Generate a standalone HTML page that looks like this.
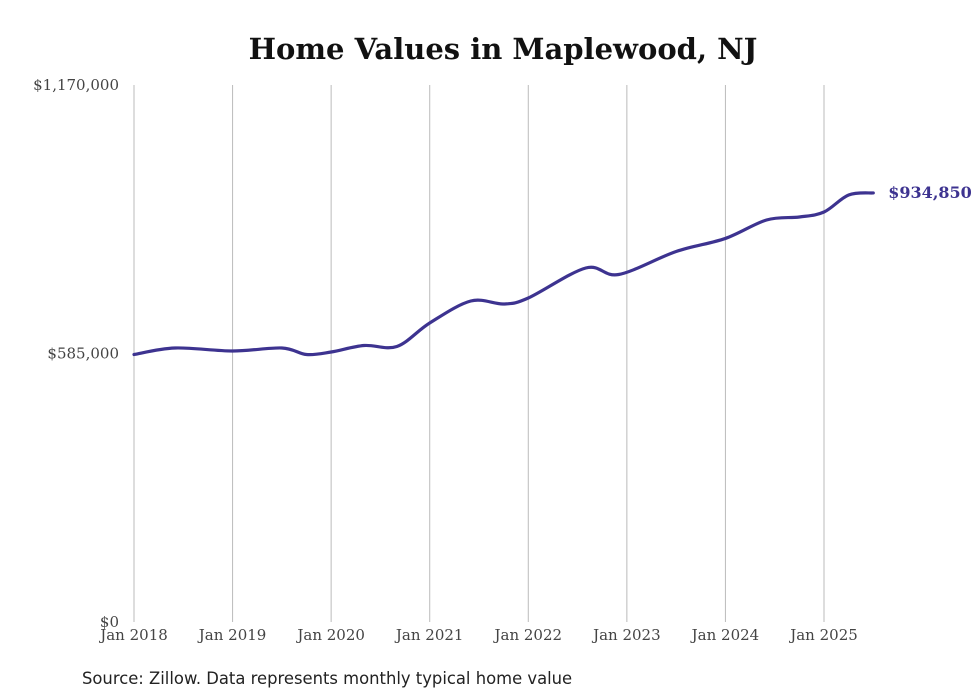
<!DOCTYPE html>
<html><head><meta charset="utf-8"><style>
body{margin:0;background:#fff;}
svg{display:block;}
</style></head><body>
<svg id="chart" width="980" height="699" viewBox="0 0 980 699" xmlns="http://www.w3.org/2000/svg">
<text x="503" y="59" text-anchor="middle" font-family="'DejaVu Serif','Liberation Serif',serif" font-weight="bold" font-size="29" fill="#111">Home Values in Maplewood, NJ</text>
<g id="grid"></g><g id="yaxis"></g><g id="xaxis"></g><g id="series"></g>
<text x="82" y="684" font-family="'DejaVu Sans','Liberation Sans',sans-serif" font-size="16.4" fill="#222">Source: Zillow. Data represents monthly typical home value</text>
</svg>
<script>
const yearLabels=["Jan 2018","Jan 2019","Jan 2020","Jan 2021","Jan 2022","Jan 2023","Jan 2024","Jan 2025"];
const yTicks=[0,585000,1170000];
const yTickLabels=["$0","$585,000","$1,170,000"];
const months=[0,5,12,18,21,24,28,32,36,41,45,48,55,59,66,72,77,81,84,87,90];
const values=[582800,597000,590500,597000,582800,588300,602400,600300,651500,699400,692900,705900,771300,757100,807200,835700,875900,882400,893300,930400,934850];
const lastLabel="$934,850";
const NS="http://www.w3.org/2000/svg";
const x=m=>134+m*(824-134)/84;
const y=v=>622-v*(622-85)/1170000;
function mk(t,a,p){const e=document.createElementNS(NS,t);for(const k in a)e.setAttribute(k,a[k]);p.appendChild(e);return e;}
const grid=document.getElementById('grid'),ya=document.getElementById('yaxis'),xa=document.getElementById('xaxis'),se=document.getElementById('series');
yearLabels.forEach((l,i)=>{
 const gx=x(i*12);
 const ln=mk('line',{x1:gx,x2:gx,y1:85,y2:622,stroke:'#bbb','stroke-width':1},grid);
 
 
 const t=mk('text',{x:gx,y:640,'text-anchor':'middle','font-family':"'DejaVu Serif','Liberation Serif',serif",'font-size':15,fill:'#444'},xa);
 t.textContent=l;
 
 
});
yTicks.forEach((v,i)=>{
 const t=mk('text',{x:119,y:y(v)+5,'text-anchor':'end','font-family':"'DejaVu Serif','Liberation Serif',serif",'font-size':15,fill:'#444'},ya);
 t.textContent=yTickLabels[i];
 
 
});
const pts=months.map((m,i)=>[x(m),y(values[i])]);
let d='M'+pts[0][0]+','+pts[0][1];
for(let i=0;i<pts.length-1;i++){
 const p0=pts[Math.max(0,i-1)],p1=pts[i],p2=pts[i+1],p3=pts[Math.min(pts.length-1,i+2)];
 const c1=[p1[0]+(p2[0]-p0[0])/6,p1[1]+(p2[1]-p0[1])/6];
 const c2=[p2[0]-(p3[0]-p1[0])/6,p2[1]-(p3[1]-p1[1])/6];
 d+=' C'+c1[0]+','+c1[1]+' '+c2[0]+','+c2[1]+' '+p2[0]+','+p2[1];
}
const path=mk('path',{d:d,fill:'none',stroke:'#3d3390','stroke-width':3.2,'stroke-linecap':'round'},se);


const last=pts[pts.length-1];
const lt=mk('text',{x:last[0]+15,y:last[1]+5,'font-family':"'DejaVu Serif','Liberation Serif',serif",'font-weight':'bold','font-size':16,fill:'#3d3390'},se);
lt.textContent=lastLabel;


</script>
</body></html>
